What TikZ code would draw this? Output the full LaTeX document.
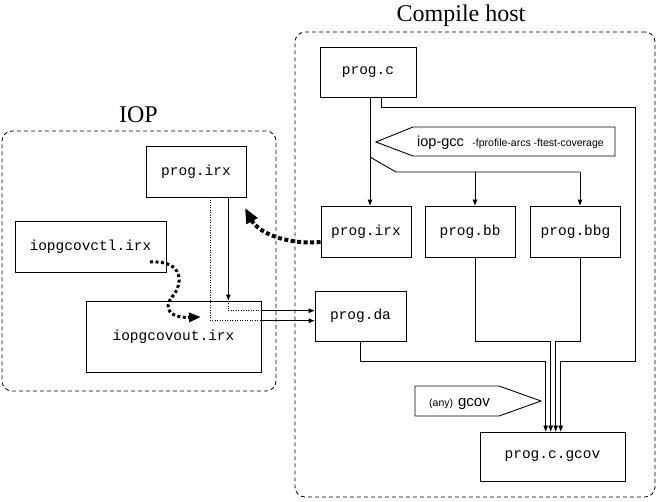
\documentclass[tikz,border=0pt]{standalone}
\usepackage{fontspec}
\setmainfont{Liberation Serif}
\setsansfont{Liberation Sans}
\setmonofont{Liberation Mono}
\usetikzlibrary{arrows.meta}
\begin{document}
\begin{tikzpicture}[x=1pt,y=-1pt,
  filebox/.style={draw, line width=0.9pt, inner sep=0pt, font=\ttfamily\fontsize{14.5}{16}\selectfont},
  frame/.style={draw, dash pattern=on 4pt off 3pt, line width=0.8pt, rounded corners=10pt, inner sep=0pt},
  title/.style={font=\fontsize{24}{28}\selectfont, anchor=base, inner sep=0pt},
  wire/.style={line width=0.9pt},
  arr/.style={wire, -{Triangle[length=6pt,width=4.5pt]}},
  fine/.style={line width=0.8pt, dash pattern=on 1pt off 1.5pt},
  bigdot/.style={line width=4pt, dash pattern=on 4pt off 2.5pt, -{Triangle[length=15pt,width=12pt]}},
  meddot/.style={line width=3pt, dash pattern=on 3pt off 2.5pt, -{Triangle[length=12pt,width=9pt]}},
  tag/.style={draw, line width=0.9pt},
  taglabel/.style={anchor=base west, inner sep=0pt, font=\sffamily}
]
\useasboundingbox (0,0) rectangle (656,502);

% frames and titles
\node[frame, minimum width=360pt, minimum height=465pt] (hostframe) at (475,264.5) {};
\node[frame, minimum width=274pt, minimum height=260pt] (iopframe) at (139,261) {};
\node[title] (hosttitle) at (461,21.5) {Compile host};
\node[title] (ioptitle) at (138.5,123) {IOP};

% host files
\node[filebox, minimum width=96pt, minimum height=50pt] (progc) at (368,72) {prog.c};
\node[filebox, minimum width=90pt, minimum height=51pt] (hirx) at (366,231.5) {prog.irx};
\node[filebox, minimum width=90pt, minimum height=51pt] (bb) at (470,231.5) {prog.bb};
\node[filebox, minimum width=90pt, minimum height=51pt] (bbg) at (575.5,231.5) {prog.bbg};
\node[filebox, minimum width=91pt, minimum height=50pt] (da) at (360.5,316) {prog.da};
\node[filebox, minimum width=145pt, minimum height=49pt] (gcov) at (552.5,456.5) {prog.c.gcov};

% IOP files
\node[filebox, minimum width=100pt, minimum height=51pt] (iirx) at (196,171.5) {prog.irx};
\node[filebox, minimum width=151pt, minimum height=51pt] (ctl) at (90.5,246.5) {iopgcovctl.irx};
\node[filebox, minimum width=175pt, minimum height=71pt] (out) at (173.5,336.5) {iopgcovout.irx};

% tags
\draw[tag] (376,142) -- (413,127) -- (615,127) -- (615,156) -- (413,156) -- cycle;
\node[taglabel] (gcclabel) at (417,146.5) {\fontsize{14.5}{16}\selectfont iop-gcc\hspace{8.5pt}\fontsize{10.5}{12}\selectfont -fprofile-arcs -ftest-coverage};
\draw[tag] (415,386) -- (499,386) -- (541,401) -- (499,416) -- (415,416) -- cycle;
\node[taglabel] (gcovlabel) at (429,406.5) {\fontsize{10.5}{12}\selectfont (any)\hspace{5pt}\fontsize{15}{16}\selectfont gcov};

% helper coordinates
\coordinate (xa) at (370,0);
\coordinate (xb) at (381,0);
\coordinate (xc) at (635,0);
\coordinate (xbb) at (475,0);
\coordinate (xbbg) at (580,0);
\coordinate (g1) at (545.7,0);
\coordinate (g2) at (550.7,0);
\coordinate (g3) at (555.7,0);
\coordinate (g4) at (560.7,0);
\coordinate (split) at (370,157);
\coordinate (bend) at (396,172);
\coordinate (yc) at (0,107);
\coordinate (yl) at (0,341);
\coordinate (yd) at (0,361);
\coordinate (xs) at (228.3,0);
\coordinate (xd) at (210.3,0);
\coordinate (ya) at (0,310.7);
\coordinate (yb) at (0,320.7);
\coordinate (ybig) at (0,242);
\coordinate (irxtip) at (245,208);
\coordinate (ctlstart) at (150,262);
\coordinate (outtip) at (201,317);

% host connectors
\draw[arr] (progc.south -| xa) -- (hirx.north -| xa);
\draw[wire] (split) -- (bend) -- (bend -| xbbg);
\draw[arr] (bend -| xbb) -- (bb.north -| xbb);
\draw[arr] (bend -| xbbg) -- (bbg.north -| xbbg);
\draw[arr] (progc.south -| xb) |- (yc -| xc) |- (yd -| g4) -- (gcov.north -| g4);
\draw[arr] (da.south) |- (yd -| g1) -- (gcov.north -| g1);
\draw[arr] (bb.south -| xbb) |- (yl -| g2) -- (gcov.north -| g2);
\draw[arr] (bbg.south -| xbbg) |- (yl -| g3) -- (gcov.north -| g3);

% IOP connectors
\draw[arr] (iirx.south -| xs) -- (out.north -| xs);
\draw[fine] (out.north -| xs) -- (ya -| xs) -- (ya -| out.east);
\draw[arr] (ya -| out.east) -- (ya -| da.west);
\draw[fine] (iirx.south -| xd) -- (yb -| xd) -- (yb -| out.east);
\draw[arr] (yb -| out.east) -- (yb -| da.west);

% thick dotted transfers
\draw[bigdot] (ybig -| hirx.west) .. controls (285,245) and (258,232) .. (irxtip);
\draw[meddot] (ctlstart) .. controls (185,260) and (183,285) .. (172,297) .. controls (162,310) and (172,318) .. (outtip);
\end{tikzpicture}
\end{document}
